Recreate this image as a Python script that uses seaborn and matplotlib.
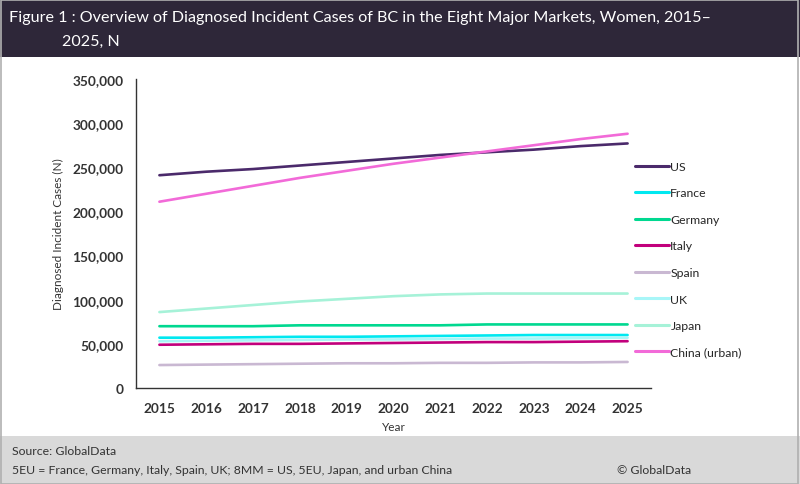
import numpy as np
import pandas as pd
import matplotlib
matplotlib.use("Agg")
import matplotlib.pyplot as plt
import seaborn as sns
from matplotlib.patches import Rectangle
from matplotlib.ticker import FuncFormatter, MultipleLocator

years = list(range(2015, 2026))
us = [241, 245, 248, 252, 256, 260, 264, 267, 270, 274, 277]
france = [57, 57, 57.5, 58, 58, 58.5, 59, 59.5, 60, 60, 60]
germany = [70, 70, 70, 71, 71, 71, 71, 72, 72, 72, 72]
italy = [49, 49.5, 50, 50, 50.5, 51, 51.5, 52, 52, 52.5, 53]
spain = [26, 26.5, 27, 27.5, 28, 28, 28.5, 28.5, 29, 29, 29.5]
uk = [53, 53.5, 54, 54.5, 55, 55, 55.5, 56, 56, 56.5, 57]
japan = [86, 90, 94, 98, 101, 104, 106, 107, 107, 107, 107]
china = [211, 220, 229, 238, 246, 254, 261, 268, 275, 282, 288]

countries = ["US", "France", "Germany", "Italy", "Spain", "UK", "Japan", "China (urban)"]
series = [us, france, germany, italy, spain, uk, japan, china]
colors = ["#4b2a6b", "#00e8f0", "#00d890", "#c2007c", "#c9b8d2", "#a8f6f8", "#a6f2d8", "#f26ad8"]

rows = []
for c, vals in zip(countries, series):
    for y, v in zip(years, vals):
        rows.append({"Year": y, "Country": c, "Cases": v * 1000})
df = pd.DataFrame(rows)

sns.set_style("white")
plt.rcParams["font.family"] = ["Lato", "DejaVu Sans"]

fig = plt.figure(figsize=(8, 4.85), dpi=100)

# background panels
fig.patches.append(Rectangle((0, 1 - 58 / 485), 1, 58 / 485, transform=fig.transFigure,
                             facecolor="#2e2739", edgecolor="none", zorder=0))
fig.patches.append(Rectangle((0, 0), 1, 48 / 485, transform=fig.transFigure,
                             facecolor="#d9d9d9", edgecolor="none", zorder=0))
fig.patches.append(Rectangle((0.001, 0.001), 0.997, 0.997, transform=fig.transFigure,
                             facecolor="none", edgecolor="#b0b0b0", lw=1.2, zorder=1))

ax = fig.add_axes([136 / 800, 1 - 389 / 485, (651 - 136) / 800, (389 - 80) / 485])
sns.lineplot(data=df, x="Year", y="Cases", hue="Country", hue_order=countries,
             palette=colors, linewidth=1.9, ax=ax, legend=False)

ax.set_xlim(2014.5, 2025.5)
ax.set_ylim(0, 350000)
ax.yaxis.set_major_locator(MultipleLocator(50000))
ax.yaxis.set_major_formatter(FuncFormatter(lambda v, p: f"{int(v):,}"))
ax.set_xticks(years)
ax.set_xticks(np.arange(2014.5, 2026, 1), minor=True)
ax.tick_params(axis="x", which="major", length=0, pad=10, labelsize=9.8, labelcolor="#333333")
ax.tick_params(axis="x", which="minor", length=5, direction="out", color="#333333", width=1)
ax.tick_params(axis="y", which="major", length=5, direction="out", color="#333333", width=1,
               labelsize=9.8, labelcolor="#333333", pad=4)
for lbl in ax.get_xticklabels() + ax.get_yticklabels():
    lbl.set_fontweight("bold")

for s in ["top", "right"]:
    ax.spines[s].set_visible(False)
for s in ["left", "bottom"]:
    ax.spines[s].set_color("#333333")
    ax.spines[s].set_linewidth(1)

ax.set_xlabel("Year", fontsize=8.5, color="#333333", labelpad=5)
ax.set_ylabel("Diagnosed Incident Cases (N)", fontsize=8.5, color="#333333", labelpad=6)

handles = [plt.Line2D([0], [0], color=c, lw=2.2) for c in colors]
ax.legend(handles, countries, loc="upper left", bbox_to_anchor=(630 / 800, 1 - 157 / 485),
          bbox_transform=fig.transFigure, frameon=False, fontsize=8.8, handlelength=2.8,
          handletextpad=0.1, labelspacing=1.27, borderaxespad=0)

fig.text(9 / 800, 1 - 18 / 485,
         "Figure 1 : Overview of Diagnosed Incident Cases of BC in the Eight Major Markets, Women, 2015–",
         color="white", fontsize=11.6, va="center", ha="left")
fig.text(62 / 800, 1 - 42 / 485, "2025, N", color="white", fontsize=11.6, va="center", ha="left")

fig.text(12 / 800, 1 - 452 / 485, "Source: GlobalData", fontsize=8.8, color="#333333", va="center")
fig.text(12 / 800, 1 - 471 / 485,
         "5EU = France, Germany, Italy, Spain, UK; 8MM = US, 5EU, Japan, and urban China",
         fontsize=8.8, color="#333333", va="center")
fig.text(617 / 800, 1 - 471 / 485, "© GlobalData", fontsize=8.8, color="#333333", va="center")

fig.savefig("out.png", dpi=100)
